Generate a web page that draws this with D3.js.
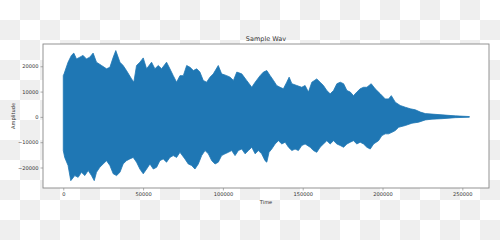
<!DOCTYPE html>
<html>
<head>
<meta charset="utf-8">
<script src="https://cdn.jsdelivr.net/npm/d3@7"></script>
<style>
  body { margin: 0; }
  svg { display: block; }
  text { font-family: "DejaVu Sans", sans-serif; fill: #333; }
</style>
</head>
<body>
<svg id="chart" width="500" height="240"></svg>
<script>
// upper envelope of the waveform (sample index, amplitude)
const topTime = [0, 500, 3000, 5100, 6600, 8300, 10400, 12400, 14500, 16600, 18700, 20800, 24000, 27100, 29200, 31300, 32900, 35500, 37500, 39600, 42800, 44200, 45900, 48000, 50100, 52200, 55300, 57400, 59500, 61600, 64700, 66800, 68900, 71000, 73100, 75200, 77300, 79400, 81500, 83600, 85600, 87700, 89800, 91900, 94000, 97100, 99200, 102400, 104500, 106600, 108700, 111800, 114900, 118100, 120200, 123300, 125400,
  127500, 129600, 131700, 133700, 135800, 137900, 140000, 141500, 143200, 146300, 149400, 151500, 153600, 155700, 158800, 160900, 163000, 165100, 167200, 169300, 171400, 173500, 175600, 177700, 179800, 181800, 183900, 186000, 188100, 190200, 192900, 195400, 198600, 201700, 203800, 205500, 208000, 211100, 214300, 217400, 220500, 223700, 226800, 231000, 237300, 245600, 254400];
const topAmp = [16300, 17000, 21600, 24300, 25200, 22900, 23600, 24300, 22900, 23600, 25200, 21600, 20300, 19000, 19600, 23600, 26200, 21600, 20300, 18300, 15000, 13700, 20300, 21600, 23300, 19000, 21600, 19000, 20300, 19000, 21600, 19000, 16300, 13700, 16300, 16300, 20300, 19600, 18300, 19000, 17700, 14400, 13700, 15700, 17000, 20300, 17000, 16300, 15700, 14400, 17700, 17000, 14400, 11700, 13700, 16300, 17700,
  18300, 16300, 14400, 12400, 11700, 11100, 13700, 15700, 13100, 12400, 11700, 12400, 9800, 13700, 15000, 13700, 12400, 10400, 9100, 10400, 13100, 13700, 13100, 10400, 9800, 8400, 9800, 11100, 11700, 11700, 13100, 11100, 9100, 7100, 7100, 8400, 5800, 4500, 3800, 3200, 2800, 1900, 1300, 1100, 800, 400, 130];

// lower envelope of the waveform
const botTime = [0, 900, 3000, 4700, 7200, 9300, 11400, 13500, 15600, 17700, 19400, 20800, 22900, 25000, 27100, 29200, 31300, 33400, 35500, 37500, 39600, 41700, 43800, 45900, 48000, 50100, 52200, 54300, 56400, 58500, 60500, 62600, 64700, 66800, 68900, 71000, 73100, 76200, 78300, 80400, 82500, 84600, 86700, 88800, 90900, 93000, 95100, 97100, 99200, 101300, 103400, 105500, 107600, 109700, 111800, 113900, 116000, 118100, 120200, 122200, 124300,
  126400, 127500, 128900, 130600, 132700, 134800, 136900, 139000, 141100, 143200, 145200, 147300, 149400, 151500, 154700, 156700, 158800, 160900, 163000, 165100, 167200, 169300, 171400, 173500, 175600, 177700, 179800, 181800, 183900, 186000, 188100, 190200, 192300, 194400, 197500, 199600, 201700, 203800, 205900, 208000, 210100, 214300, 218400, 222600, 226800, 231000, 237300, 245600, 254400];
const botAmp = [-13300, -16000, -19200, -25200, -23200, -23900, -21900, -23200, -21200, -23200, -25200, -21900, -19900, -18600, -17300, -19200, -22500, -23200, -21900, -18600, -17300, -16600, -16000, -17900, -20600, -22500, -20600, -18600, -20600, -19900, -17300, -16600, -17900, -16000, -15300, -16000, -14000, -16600, -18600, -19200, -20600, -18600, -15300, -13300, -14600, -17300, -18600, -17900, -15300, -14600, -14000, -13300, -15300, -13300, -12700, -14600, -13300, -12000, -14600, -13300, -14600,
  -17300, -17900, -14000, -12700, -10700, -9400, -10700, -10000, -12000, -13300, -12700, -13300, -11300, -10700, -12000, -13300, -14000, -12000, -10700, -9400, -10700, -9400, -10700, -11300, -12000, -10700, -10000, -9400, -10700, -10000, -10700, -12000, -12700, -10700, -9400, -7400, -6700, -6700, -6100, -5400, -4100, -3400, -2500, -2100, -1200, -900, -700, -300, -130];

const xTicks = [0, 50000, 100000, 150000, 200000, 250000];
const yTicks = [-20000, -10000, 0, 10000, 20000];

const svg = d3.select("#chart");
const margin = { left: 43, right: 11, top: 44, bottom: 52 };
const width = 500, height = 240;

// transparent-look checkerboard behind the figure
const defs = svg.append("defs");
const pat = defs.append("pattern")
    .attr("id", "checker")
    .attr("width", 40).attr("height", 40)
    .attr("patternUnits", "userSpaceOnUse");
pat.append("rect").attr("width", 40).attr("height", 40).attr("fill", "#ffffff");
pat.append("rect").attr("x", 20).attr("y", 0).attr("width", 20).attr("height", 20).attr("fill", "#efefef");
pat.append("rect").attr("x", 0).attr("y", 20).attr("width", 20).attr("height", 20).attr("fill", "#efefef");
svg.append("rect").attr("width", width).attr("height", height).attr("fill", "url(#checker)");

const x = d3.scaleLinear()
    .domain([-12700, 266700])
    .range([margin.left, width - margin.right]);

const y = d3.scaleLinear()
    .domain([-28100, 28800])
    .range([height - margin.bottom, margin.top]);

// axes background
svg.append("rect")
    .attr("x", x.range()[0])
    .attr("y", y.range()[1])
    .attr("width", x.range()[1] - x.range()[0])
    .attr("height", y.range()[0] - y.range()[1])
    .attr("fill", "#ffffff");

// build closed outline: top forward, bottom backwards
const topPts = topTime.map((t, i) => [t, topAmp[i]]);
const botPts = botTime.map((t, i) => [t, botAmp[i]]).reverse();
const outline = topPts.concat(botPts);

const line = d3.line()
    .x(d => x(d[0]))
    .y(d => y(d[1]))
    .curve(d3.curveLinearClosed);

svg.append("path")
    .attr("d", line(outline))
    .attr("fill", "#1f77b4")
    .attr("stroke", "#1f77b4")
    .attr("stroke-width", 0.8)
    .attr("stroke-linejoin", "round");

// axes
const xAxis = d3.axisBottom(x).tickValues(xTicks).tickFormat(d3.format("d")).tickSize(2.5).tickPadding(2);
const yAxis = d3.axisLeft(y).tickValues(yTicks).tickFormat(d3.format("d")).tickSize(2.5).tickPadding(2);

const gx = svg.append("g")
    .attr("transform", `translate(0,${y.range()[0]})`)
    .call(xAxis);
const gy = svg.append("g")
    .attr("transform", `translate(${x.range()[0]},0)`)
    .call(yAxis);

[gx, gy].forEach(g => {
    g.select(".domain").remove();
    g.selectAll(".tick line").attr("stroke", "#777").attr("stroke-width", 0.6);
    g.selectAll(".tick text")
        .attr("font-family", "DejaVu Sans, sans-serif")
        .attr("font-size", 5.1)
        .attr("fill", "#333");
});

// frame
svg.append("rect")
    .attr("x", x.range()[0])
    .attr("y", y.range()[1])
    .attr("width", x.range()[1] - x.range()[0])
    .attr("height", y.range()[0] - y.range()[1])
    .attr("fill", "none")
    .attr("stroke", "#888")
    .attr("stroke-width", 0.9);

const cx = (x.range()[0] + x.range()[1]) / 2;

svg.append("text")
    .attr("x", cx)
    .attr("y", 41)
    .attr("text-anchor", "middle")
    .attr("font-size", 6.5)
    .text("Sample Wav");

svg.append("text")
    .attr("x", cx)
    .attr("y", 203.5)
    .attr("text-anchor", "middle")
    .attr("font-size", 5.1)
    .text("Time");

svg.append("text")
    .attr("transform", `translate(15,${(y.range()[0] + y.range()[1]) / 2}) rotate(-90)`)
    .attr("text-anchor", "middle")
    .attr("font-size", 5.1)
    .text("Amplitude");
</script>
</body>
</html>
